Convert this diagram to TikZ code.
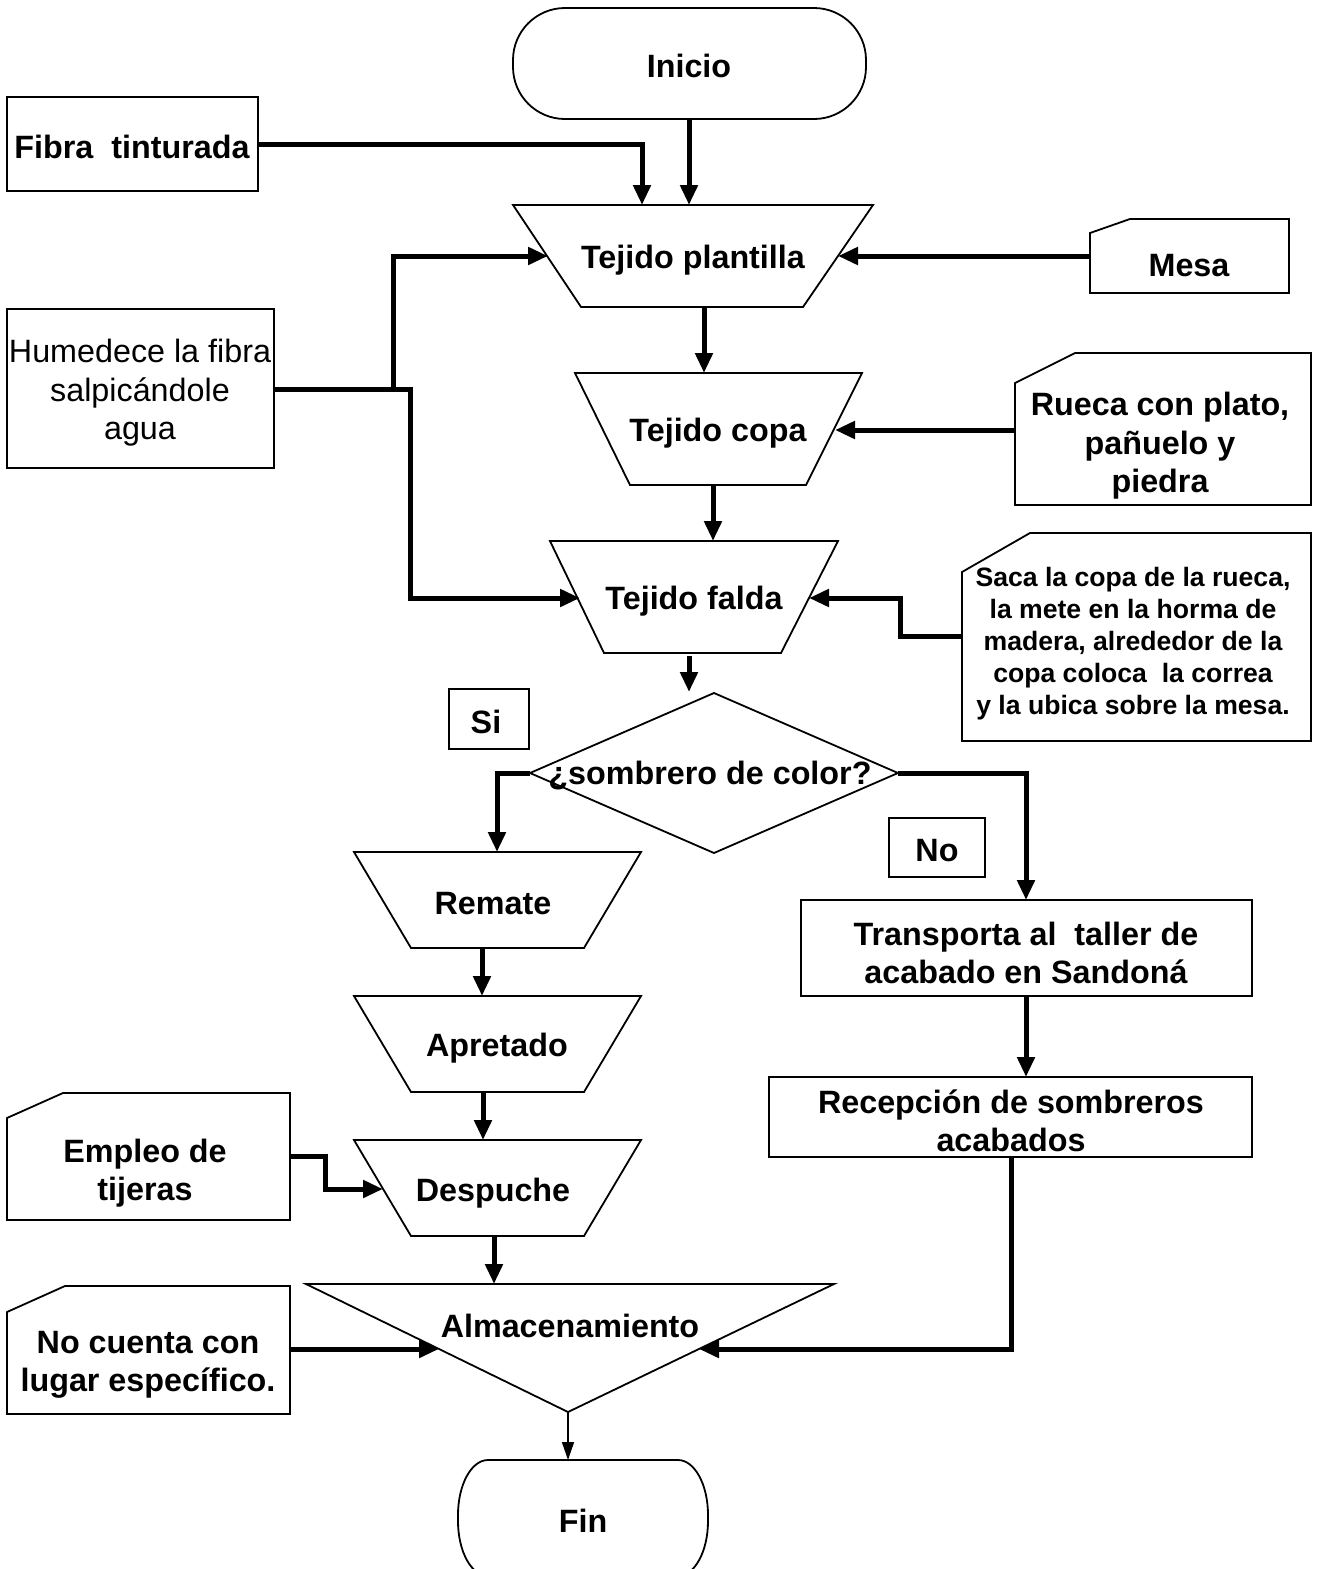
\documentclass[tikz,border=0pt]{standalone}
\usepackage{fontspec}
\setmainfont{Liberation Sans}
\usetikzlibrary{arrows.meta}
\newcommand\txtbig{\fontsize{32.3}{38.5}\selectfont}
\newcommand\txtsmall{\fontsize{26.6}{32}\selectfont}
\begin{document}
\begin{tikzpicture}[x=1pt,y=-1pt,
  outline/.style={draw=black, line width=1.8pt},
  lbl/.style={font=\txtbig\bfseries, align=center, inner sep=0pt, yshift=-3pt},
  lblreg/.style={font=\txtbig, align=center, inner sep=0pt, yshift=-3pt},
  lblsmall/.style={font=\txtsmall\bfseries, align=center, inner sep=0pt, yshift=-3pt},
  flow/.style={line width=5pt, -{Triangle[length=20pt,width=17pt]}},
  thinflow/.style={line width=1.6pt, -{Triangle[length=18pt,width=12pt]}},
]
\useasboundingbox[fill=white] (0,0) rectangle (1319,1569);

% ---------- terminals ----------
\draw[outline, rounded corners=52pt] (513,8) rectangle (866,119);
\node[lbl] (inicio) at (689,63) {Inicio};

\draw[outline] (488,1460) -- (678,1460)
  .. controls (694.6,1460) and (708,1484.6) .. (708,1515) -- (708,1521)
  .. controls (708,1551.4) and (694.6,1576) .. (678,1576) -- (488,1576)
  .. controls (471.4,1576) and (458,1551.4) .. (458,1521) -- (458,1515)
  .. controls (458,1484.6) and (471.4,1460) .. (488,1460) -- cycle;
\node[lbl] (fin) at (583,1518) {Fin};

% ---------- plain boxes ----------
\draw[outline] (7,97) rectangle (258,191);
\node[lbl] (fibra) at (132,144) {Fibra\ \ tinturada};

\draw[outline] (7,309) rectangle (274,468);
\node[lblreg] (hum) at (140,390) {Humedece la fibra\\salpicándole\\agua};

\draw[outline] (449,689) rectangle (529,749);
\node[lbl] (si) at (486,719) {Si};

\draw[outline] (889,818) rectangle (985,877);
\node[lbl] (no) at (937,848) {No};

\draw[outline] (801,900) rectangle (1252,996);
\node[lbl] (transp) at (1026,950) {Transporta al\ \ taller de\\acabado en Sandoná};

\draw[outline] (769,1077) rectangle (1252,1157);
\node[lbl] (recep) at (1011,1118) {Recepción de sombreros\\acabados};

% ---------- cards with a cut corner ----------
\draw[outline] (1090,233) -- (1130,219) -- (1289,219) -- (1289,293) -- (1090,293) -- cycle;
\node[lbl] (mesa) at (1189,263) {Mesa};

\draw[outline] (1015,383) -- (1075,353) -- (1311,353) -- (1311,505) -- (1015,505) -- cycle;
\node[lbl] (rueca) at (1160,443) {Rueca con plato,\\pañuelo y\\piedra};

\draw[outline] (962,572) -- (1030,533) -- (1311,533) -- (1311,741) -- (962,741) -- cycle;
\node[lblsmall] (saca) at (1133,641) {Saca la copa de la rueca,\\la mete en la horma de\\madera, alrededor de la\\copa coloca\ \ la correa\\y la ubica sobre la mesa.};

\draw[outline] (7,1118) -- (63,1093) -- (290,1093) -- (290,1220) -- (7,1220) -- cycle;
\node[lbl] (empleo) at (145,1170) {Empleo de\\tijeras};

\draw[outline] (7,1312) -- (65,1286) -- (290,1286) -- (290,1414) -- (7,1414) -- cycle;
\node[lbl] (nocuenta) at (148,1362) {No cuenta con\\lugar específico.};

% ---------- manual operations (trapezoids) ----------
\draw[outline] (513,205) -- (873,205) -- (803,307) -- (581,307) -- cycle;
\node[lbl] (plantilla) at (693,257) {Tejido plantilla};

\draw[outline] (575,373) -- (862,373) -- (806,485) -- (630,485) -- cycle;
\node[lbl] (copa) at (718,430) {Tejido copa};

\draw[outline] (550,541) -- (838,541) -- (781,653) -- (604,653) -- cycle;
\node[lbl] (falda) at (694,598) {Tejido falda};

\draw[outline] (354,852) -- (641,852) -- (584,948) -- (411,948) -- cycle;
\node[lbl] (remate) at (493,901) {Remate};

\draw[outline] (354,996) -- (641,996) -- (584,1092) -- (411,1092) -- cycle;
\node[lbl] (apretado) at (497,1045) {Apretado};

\draw[outline] (354,1140) -- (641,1140) -- (584,1236) -- (411,1236) -- cycle;
\node[lbl] (despuche) at (493,1190) {Despuche};

% ---------- decision and storage ----------
\draw[outline] (530,773) -- (714,693) -- (898,773) -- (714,853) -- cycle;
\node[lbl] (decision) at (710,773) {¿sombrero de color?};

\draw[outline] (306,1284) -- (834,1284) -- (568,1412) -- cycle;
\node[lbl] (almacen) at (570,1323) {Almacenamiento};

% ---------- connection points ----------
\coordinate (inicioS) at (689,119);
\coordinate (fibraE) at (258,144);
\coordinate (plantN1) at (642,205);
\coordinate (plantN2) at (689,205);
\coordinate (plantL) at (548,256);
\coordinate (plantR) at (838,256);
\coordinate (plantS) at (704,307);
\coordinate (mesaW) at (1090,256);
\coordinate (humE) at (274,389);
\coordinate (copaN) at (704,373);
\coordinate (copaR) at (835,430);
\coordinate (copaS) at (713,485);
\coordinate (ruecaW) at (1015,430);
\coordinate (faldaN) at (713,541);
\coordinate (faldaL) at (580,598);
\coordinate (faldaR) at (809,598);
\coordinate (faldaS) at (689,656);
\coordinate (sacaW) at (962,636);
\coordinate (decN) at (689,692);
\coordinate (decW) at (530,773);
\coordinate (decE) at (898,773);
\coordinate (remateN) at (497,852);
\coordinate (remateS) at (482,948);
\coordinate (apretN) at (482,996);
\coordinate (apretS) at (483,1092);
\coordinate (despN) at (483,1140);
\coordinate (despL) at (383,1189);
\coordinate (despS) at (494,1236);
\coordinate (empleoE) at (290,1156);
\coordinate (almN) at (494,1284);
\coordinate (almL) at (439,1349);
\coordinate (almR) at (699,1349);
\coordinate (almS) at (568,1412);
\coordinate (nocuentaE) at (290,1349);
\coordinate (transpN) at (1026,900);
\coordinate (transpS) at (1026,996);
\coordinate (recepN) at (1026,1077);
\coordinate (recepS) at (1011,1157);
\coordinate (finN) at (568,1460);

% ---------- connectors ----------
\draw[flow] (fibraE) -| (plantN1);
\draw[flow] (inicioS) -- (plantN2);
\draw[flow] (mesaW) -- (plantR);
\draw[flow] (humE) -- (393,389) |- (plantL);
\draw[flow] (393,389) -- (410,389) |- (faldaL);
\draw[flow] (plantS) -- (copaN);
\draw[flow] (ruecaW) -- (copaR);
\draw[flow] (copaS) -- (faldaN);
\draw[flow] (sacaW) -- (900,636) |- (faldaR);
\draw[flow] (faldaS) -- (decN);
\draw[flow] (decW) -| (remateN);
\draw[flow] (decE) -| (transpN);
\draw[flow] (remateS) -- (apretN);
\draw[flow] (apretS) -- (despN);
\draw[flow] (empleoE) -- (325,1156) |- (despL);
\draw[flow] (despS) -- (almN);
\draw[flow] (nocuentaE) -- (almL);
\draw[flow] (transpS) -- (recepN);
\draw[flow] (recepS) |- (almR);
\draw[thinflow] (almS) -- (finN);
\end{tikzpicture}
\end{document}
